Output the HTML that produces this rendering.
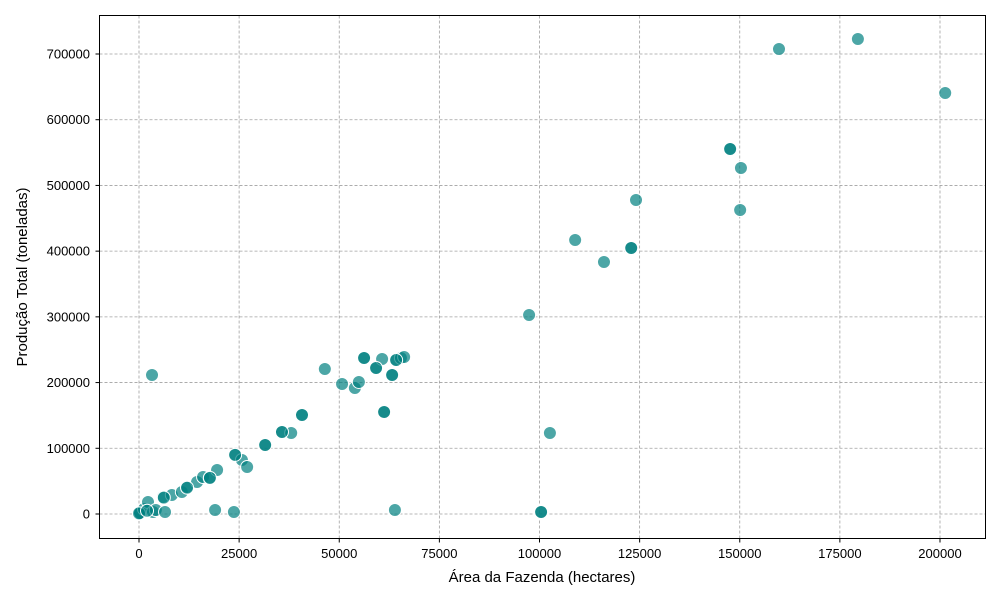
<!DOCTYPE html>
<html><head><meta charset="utf-8"><style>
body{margin:0;background:#fff;}
svg{display:block;font-family:"Liberation Sans",sans-serif;}
</style></head><body>
<svg id="chart" width="1000" height="600">
<rect x="0" y="0" width="1000" height="600" fill="#fff"></rect>
<g id="grid"></g>
<g id="points"></g>
<rect x="99.5" y="15.5" width="886" height="523" fill="none" stroke="#000" stroke-width="1"></rect>
<g id="ticks"></g>
<text x="542" y="582" font-size="15" text-anchor="middle">Área da Fazenda (hectares)</text>
<text transform="translate(27,277) rotate(-90)" font-size="15" text-anchor="middle">Produção Total (toneladas)</text>
</svg>
<script>
const areas = [0,250,1250,2250,3500,4200,6500,6000,8200,10700,12000,14500,16000,17700,19500,19000,23700,24000,25700,27000,31500,3250,35700,38000,40700,46400,50700,53900,54900,56200,59200,60700,63200,64200,65400,66200,61200,63900,100400,102600,97400,108900,116100,122900,124100,147600,150300,150100,159800,179500,201300,
  0,2000,6200,12000,17700,24000,31500,35700,40700,61200,147600,122900,100400,56200,63200,59200,64200];
const production = [0,1500,7600,18300,3000,6100,3000,25900,28900,33500,41100,48700,56300,54800,67000,6100,3000,89800,82200,71500,105000,211500,124800,123300,150600,220600,197800,191700,200900,237400,222200,235900,211500,234300,237400,238900,155200,6100,3000,123300,302800,416900,383500,404800,477800,555400,526500,462600,707600,722800,640600,
  1000,5000,25000,40000,55000,90000,105000,124800,150600,155200,555400,404800,3000,237400,211500,222200,234300];
const xTicks = [0,25000,50000,75000,100000,125000,150000,175000,200000];
const yTicks = [0,100000,200000,300000,400000,500000,600000,700000];
const NS="http://www.w3.org/2000/svg";
const X = v => 139 + v*(940-139)/200000;
const Y = v => 514 - v*(514-54)/700000;
const grid=document.getElementById('grid'), ticks=document.getElementById('ticks'), pts=document.getElementById('points');
function mk(tag,attrs,parent){const e=document.createElementNS(NS,tag);for(const k in attrs)e.setAttribute(k,attrs[k]);parent.appendChild(e);return e;}
xTicks.forEach(t=>{
  const x=X(t);
  const g=mk('line',{x1:x,x2:x,y1:15.5,y2:538.5,stroke:'#a0a0a0','stroke-width':0.8,'stroke-dasharray':'3,2'},grid);
  
  
  mk('line',{x1:x,x2:x,y1:538.5,y2:542.5,stroke:'#000'},ticks);
  const l=mk('text',{x:x,y:558,'font-size':13,'text-anchor':'middle'},ticks);
  l.textContent=t;
  
  
});
yTicks.forEach(t=>{
  const y=Y(t);
  const g=mk('line',{x1:99.5,x2:985.5,y1:y,y2:y,stroke:'#a0a0a0','stroke-width':0.8,'stroke-dasharray':'3,2'},grid);
  
  
  mk('line',{x1:95.5,x2:99.5,y1:y,y2:y,stroke:'#000'},ticks);
  const l=mk('text',{x:90,y:y+4.5,'font-size':13,'text-anchor':'end'},ticks);
  l.textContent=t;
  
  
});
areas.forEach((a,i)=>{
  const c=mk('circle',{cx:X(a),cy:Y(production[i]),r:6.5,fill:'#008080','fill-opacity':0.7,stroke:'#fff','stroke-width':1},pts);
  
  
});
</script>
</body></html>
